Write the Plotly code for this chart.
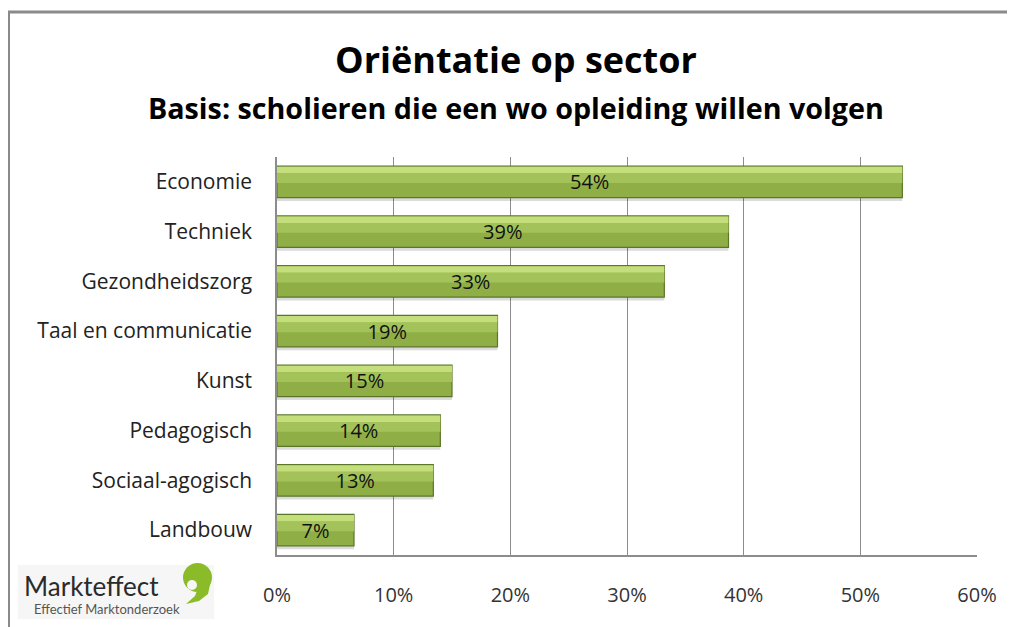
import plotly.graph_objects as go

categories = ["Economie", "Techniek", "Gezondheidszorg", "Taal en communicatie",
              "Kunst", "Pedagogisch", "Sociaal-agogisch", "Landbouw"]
values = [53.6, 38.7, 33.2, 18.9, 15.0, 14.0, 13.4, 6.6]
tick_vals = [0, 10, 20, 30, 40, 50, 60]
tick_text = ["0%", "10%", "20%", "30%", "40%", "50%", "60%"]

# page body has an 8px margin: figure covers reference pixels 8..1015
OFF = 8
W, H = 1015 - OFF, 627 - OFF
FONT = "Open Sans"
TFONT = "Open Sans"


def px(x):
    return (x - OFF) / W


def py(y):
    return 1 - (y - OFF) / H


fig = go.Figure()

bar_w = 0.63
# soft shadow under the bars
fig.add_trace(go.Bar(
    y=categories, x=values, orientation="h", width=bar_w, offset=-0.315 + 0.07,
    marker=dict(color="rgba(0,0,0,0.14)", line=dict(width=0)),
    hoverinfo="skip", showlegend=False,
))
# base bar (darker lower part)
fig.add_trace(go.Bar(
    y=categories, x=values, orientation="h", width=bar_w,
    marker=dict(color="#8fae46", line=dict(color="#5a7628", width=1.2)),
    hoverinfo="skip", showlegend=False,
))
# gradient bands (bevel look)
fig.add_trace(go.Bar(
    y=categories, x=values, orientation="h", width=0.13, offset=-0.305,
    marker=dict(color="#c3de7a", line=dict(width=0)),
    hoverinfo="skip", showlegend=False,
))
fig.add_trace(go.Bar(
    y=categories, x=values, orientation="h", width=0.2, offset=-0.175,
    marker=dict(color="#a3c35a", line=dict(width=0)),
    hoverinfo="skip", showlegend=False,
))
# value labels
fig.add_trace(go.Bar(
    y=categories, x=values, orientation="h", width=bar_w,
    marker=dict(color="rgba(0,0,0,0)", line=dict(width=0)),
    text=[f"{round(v)}%" for v in values], textposition="inside",
    insidetextanchor="middle", constraintext="none",
    textfont=dict(family=FONT, size=20, color="#111111"),
    hoverinfo="skip", showlegend=False,
))

shapes = []
shapes.append(dict(type="line", xref="paper", yref="paper",
                   x0=px(8), x1=px(1015), y0=py(12), y1=py(12),
                   line=dict(color="#8a8a8a", width=3)))
shapes.append(dict(type="line", xref="paper", yref="paper",
                   x0=px(9), x1=px(9), y0=py(12), y1=py(627),
                   line=dict(color="#8a8a8a", width=2)))
# logo
shapes.append(dict(type="rect", xref="paper", yref="paper",
                   x0=px(18), x1=px(214), y0=py(565), y1=py(619),
                   fillcolor="#f6f6f6", line=dict(width=0), layer="below"))
shapes.append(dict(type="circle", xref="paper", yref="paper",
                   x0=px(183), x1=px(212), y0=py(563), y1=py(592),
                   fillcolor="#8cbb2a", line=dict(width=0)))
pts = [(211, 580), (208, 594), (199, 601), (186, 604), (195, 596), (198, 588)]
path = "M " + " L ".join(f"{px(a):.5f},{py(b):.5f}" for a, b in pts) + " Z"
shapes.append(dict(type="path", xref="paper", yref="paper", path=path,
                   fillcolor="#8cbb2a", line=dict(width=0)))
shapes.append(dict(type="circle", xref="paper", yref="paper",
                   x0=px(187), x1=px(197), y0=py(580), y1=py(590),
                   fillcolor="#f6f6f6", line=dict(width=0)))

annotations = [
    dict(text="<b>Oriëntatie op sector</b>", xref="paper", yref="paper",
         x=px(516), y=py(60), yanchor="middle", showarrow=False,
         font=dict(family=TFONT, size=36, color="#000000")),
    dict(text="<b>Basis: scholieren die een wo opleiding willen volgen</b>",
         xref="paper", yref="paper", x=px(516), y=py(107), yanchor="middle",
         showarrow=False,
         font=dict(family=TFONT, size=28.7, color="#000000")),
    dict(text="Markteffect", xref="paper", yref="paper", x=px(23), y=py(586),
         xanchor="left", yanchor="middle", showarrow=False, borderpad=0,
         font=dict(family="Lato", size=26, color="#2b2b2b")),
    dict(text="Effectief Marktonderzoek", xref="paper", yref="paper",
         x=px(33), y=py(609), xanchor="left", yanchor="middle", showarrow=False,
         borderpad=0,
         font=dict(family="Lato", size=13, color="#555555")),
]

fig.update_layout(
    template="none",
    width=W, height=H, margin=dict(l=0, r=0, t=0, b=0, pad=0),
    paper_bgcolor="white", plot_bgcolor="white",
    barmode="overlay", bargap=0.37,
    shapes=shapes, annotations=annotations,
    xaxis=dict(domain=[px(277), px(977)], range=[0, 60], automargin=False,
               tickvals=tick_vals, ticktext=tick_text,
               showgrid=True, gridcolor="#8c8c8c", gridwidth=1,
               showline=True, linecolor="#8c8c8c", linewidth=1.5,
               zeroline=False, ticks="", ticklabelstandoff=21,
               tickfont=dict(family=FONT, size=20, color="#333333"),
               fixedrange=True),
    yaxis=dict(domain=[py(555), py(157)], autorange="reversed", automargin=False,
               showgrid=False, showline=True, linecolor="#8c8c8c",
               linewidth=1.5, ticks="", ticklabelstandoff=19,
               tickfont=dict(family=FONT, size=21, color="#222222"),
               fixedrange=True),
)

fig.write_html("out.html")
